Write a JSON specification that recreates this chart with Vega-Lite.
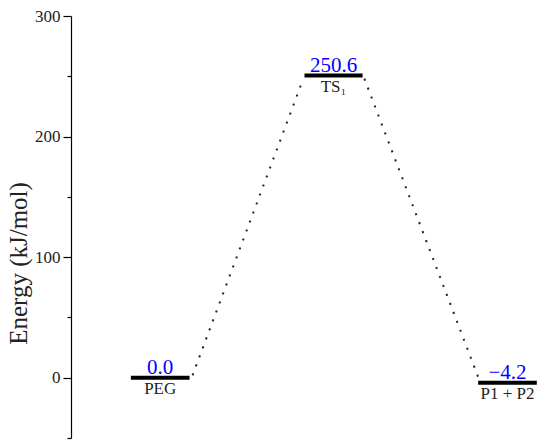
{
  "$schema": "https://vega.github.io/schema/vega-lite/v6.json",
  "width": 479,
  "height": 422,
  "autosize": "none",
  "padding": {"left": 71, "top": 16, "right": 0, "bottom": 9},
  "background": "white",
  "config": {"view": {"stroke": null}, "font": "Liberation Serif"},
  "datasets": {
    "levels": [
      {"name": "PEG", "energy": 0.0, "xs": 1.0, "xe": 1.98, "xm": 1.49, "label": "0.0"},
      {"name": "TS₁", "energy": 250.6, "xs": 3.9, "xe": 4.87, "xm": 4.385, "label": "250.6"},
      {"name": "P1 + P2", "energy": -4.2, "xs": 6.8, "xe": 7.78, "xm": 7.29, "label": "−4.2"}
    ],
    "links": [
      {"xa": 2.03, "ya": 2.0, "xb": 3.88, "yb": 248.0},
      {"xa": 4.9, "ya": 248.0, "xb": 6.82, "yb": -2.0}
    ]
  },
  "layer": [
    {
      "data": {"name": "links"},
      "mark": {"type": "rule", "strokeDash": [2, 7.6], "strokeWidth": 2, "color": "#222222", "strokeCap": "butt"},
      "encoding": {
        "x": {"field": "xa", "type": "quantitative", "scale": {"domain": [0, 8]}, "axis": null},
        "x2": {"field": "xb"},
        "y": {"field": "ya", "type": "quantitative", "scale": {"domain": [-50, 300]},
          "axis": {
            "title": "Energy (kJ/mol)",
            "values": [-50, 0, 50, 100, 150, 200, 250, 300],
            "labelExpr": "datum.value % 100 === 0 ? datum.label : ''",
            "tickSize": {"condition": {"test": "datum.value % 100 === 0", "value": 8}, "value": 4},
            "grid": false,
            "domainColor": "black",
            "domainWidth": 1.2,
            "tickColor": "black",
            "tickWidth": 1.2,
            "labelColor": "#222222",
            "labelFontSize": 17,
            "labelPadding": 3,
            "titleFontSize": 25,
            "titleFontWeight": "normal",
            "titleColor": "#222222",
            "titleX": -53,
            "titleY": 247,
            "titleAngle": -90,
            "titleAlign": "center",
            "titleBaseline": "middle"
          }
        },
        "y2": {"field": "yb"}
      }
    },
    {
      "data": {"name": "levels"},
      "mark": {"type": "rule", "strokeWidth": 4, "color": "black"},
      "encoding": {
        "x": {"field": "xs", "type": "quantitative"},
        "x2": {"field": "xe"},
        "y": {"field": "energy", "type": "quantitative"}
      }
    },
    {
      "data": {"name": "levels"},
      "mark": {"type": "text", "color": "#0000ff", "fontSize": 21, "baseline": "alphabetic", "dy": -4},
      "encoding": {
        "x": {"field": "xm", "type": "quantitative"},
        "y": {"field": "energy", "type": "quantitative"},
        "text": {"field": "label"}
      }
    },
    {
      "data": {"name": "levels"},
      "mark": {"type": "text", "color": "#222222", "fontSize": 17, "baseline": "top", "dy": 3},
      "encoding": {
        "x": {"field": "xm", "type": "quantitative"},
        "y": {"field": "energy", "type": "quantitative"},
        "text": {"field": "name"}
      }
    }
  ]
}
